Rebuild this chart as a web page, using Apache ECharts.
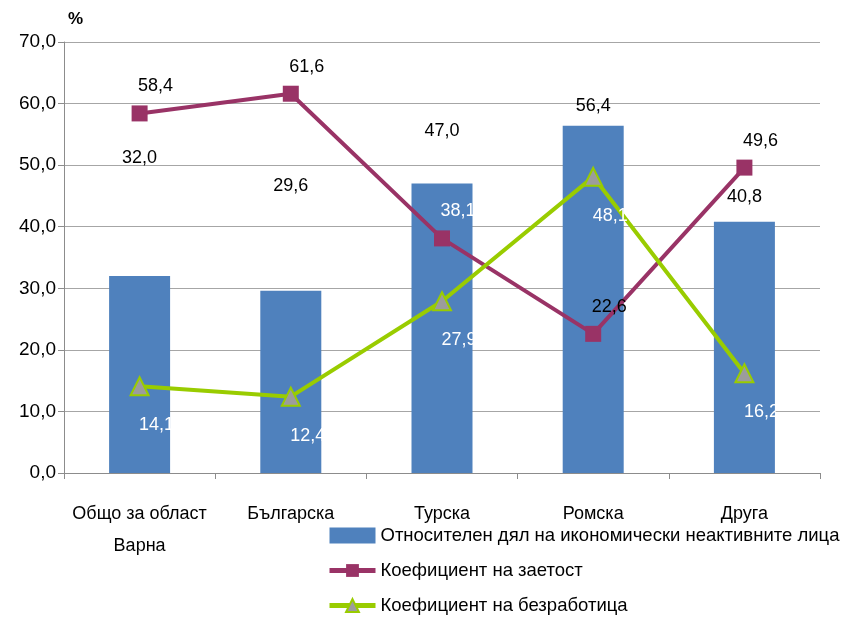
<!DOCTYPE html>
<html><head><meta charset="utf-8">
<script src="https://cdn.jsdelivr.net/npm/echarts@6/dist/echarts.min.js"></script>
<style>html,body{margin:0;padding:0;background:#fff}#c{width:845px;height:620px}</style>
</head><body><div id="c"></div>
<script>
var categories = ['Общо за област\nВарна', 'Българска', 'Турска', 'Ромска', 'Друга'];
var inactiveShare = [32.0, 29.6, 47.0, 56.4, 40.8];
var employmentRate = [58.4, 61.6, 38.1, 22.6, 49.6];
var unemploymentRate = [14.1, 12.4, 27.9, 48.1, 16.2];
var yTicks = [0, 10, 20, 30, 40, 50, 60, 70];
var seriesNames = ['Относителен дял на икономически неактивните лица', 'Коефициент на заетост', 'Коефициент на безработица'];

var FONT = '"Liberation Sans", Arial, sans-serif';
var FS = 18;
var fmt = function (v) { return v.toFixed(1).replace('.', ','); };
// label lift above bars (layout only)
var barLabelLift = [-104, -91, -39, -6, -11];

var chart = echarts.init(document.getElementById('c'), null, {renderer: 'canvas'});
chart.setOption({
  animation: false,
  textStyle: {fontFamily: FONT},
  grid: {left: 64, right: 25, top: 42, bottom: 147},
  legend: {
    orient: 'vertical', left: 327, top: 526, padding: 0,
    itemWidth: 46, itemHeight: 16, itemGap: 16,
    textStyle: {fontFamily: FONT, fontSize: 18.5, color: '#000'},
    data: [
      {name: seriesNames[0], icon: 'rect'},
      {name: seriesNames[1], lineStyle: {width: 5}},
      {name: seriesNames[2], lineStyle: {width: 5}}
    ]
  },
  xAxis: {
    type: 'category', data: categories,
    axisLine: {lineStyle: {color: '#8c8c8c', width: 1}},
    axisTick: {show: true, length: 6, lineStyle: {color: '#8c8c8c'}},
    axisLabel: {interval: 0, fontFamily: FONT, fontSize: FS, color: '#000', margin: 25, lineHeight: 32}
  },
  yAxis: {
    type: 'value', min: yTicks[0], max: yTicks[yTicks.length - 1], interval: 10,
    name: '%', nameLocation: 'end', nameGap: 14,
    nameTextStyle: {fontFamily: FONT, fontSize: 17, fontWeight: 'bold', color: '#000', align: 'left', padding: [0, 0, 0, 4]},
    axisLine: {show: true, lineStyle: {color: '#8c8c8c'}},
    axisTick: {show: true, length: 6, lineStyle: {color: '#8c8c8c'}},
    splitLine: {lineStyle: {color: '#a6a6a6', width: 1}},
    axisLabel: {fontFamily: FONT, fontSize: 19, color: '#000', margin: 8, formatter: fmt}
  },
  series: [
    {
      name: seriesNames[0], type: 'bar', barWidth: 61,
      itemStyle: {color: '#4F81BD'},
      data: inactiveShare.map(function (v, i) {
        return {value: v, label: {offset: [0, barLabelLift[i]]}};
      }),
      label: {show: true, position: 'top', distance: 5, fontFamily: FONT, fontSize: FS, color: '#000',
        formatter: function (p) { return fmt(p.value); }},
      z: 1
    },
    {
      name: seriesNames[1], type: 'line',
      data: employmentRate.map(function (v, i) {
        return i === 2 ? {value: v, label: {color: '#ffffff'}} : v;
      }),
      symbol: 'rect', symbolSize: 16,
      lineStyle: {color: '#993366', width: 4},
      itemStyle: {color: '#993366'},
      label: {show: true, position: 'top', distance: 10, offset: [16, 0], fontFamily: FONT, fontSize: FS,
        color: '#000', formatter: function (p) { return fmt(p.value); }},
      z: 2
    },
    {
      name: seriesNames[2], type: 'line', data: unemploymentRate,
      symbol: 'triangle', symbolSize: 18,
      lineStyle: {color: '#99CC00', width: 4},
      itemStyle: {color: '#9c9c9c', borderColor: '#99CC00', borderWidth: 2},
      label: {show: true, position: 'bottom', distance: 20, offset: [17, 0], fontFamily: FONT, fontSize: FS,
        color: '#ffffff', formatter: function (p) { return fmt(p.value); }},
      z: 3
    }
  ]
});
</script>
</body></html>
